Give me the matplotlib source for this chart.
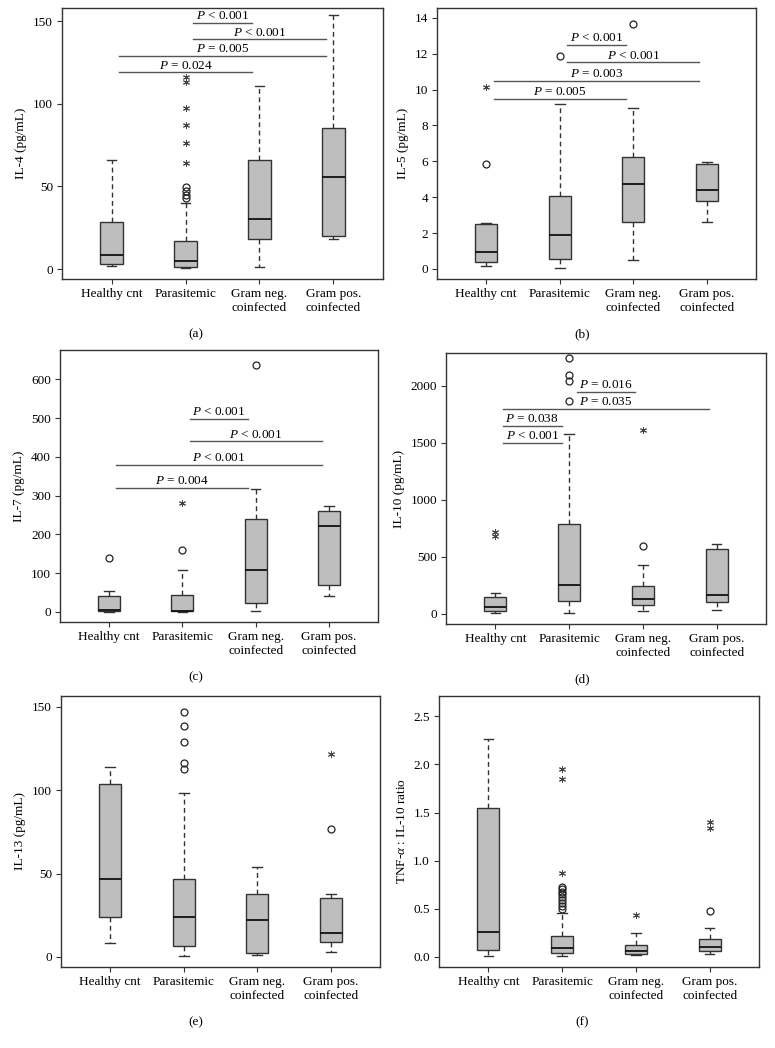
import matplotlib
matplotlib.use("Agg")
import matplotlib.pyplot as plt

plt.rcParams['font.family'] = ['Liberation Serif', 'DejaVu Serif']
plt.rcParams['mathtext.fontset'] = 'custom'
plt.rcParams['mathtext.rm'] = 'Liberation Serif'
plt.rcParams['mathtext.it'] = 'Liberation Serif:italic'

groups = ['Healthy cnt', 'Parasitemic', 'Gram neg.\ncoinfected', 'Gram pos.\ncoinfected']

# box stats per group: whisker low, Q1, median, Q3, whisker high
il4_box = [[1.6, 3, 8.7, 28.5, 66], [0.4, 1.2, 4.6, 17, 40],
           [1.4, 18, 30.5, 66, 111], [18.4, 19.8, 56, 85.4, 154]]
il4_circles = [[], [43, 45, 47.5, 49.5], [], []]
il4_stars = [[], [64, 76.3, 87, 97.7, 113, 116.5], [], []]
il4_sig = [(2, 3, 149, '< 0.001'), (2, 4, 139, '< 0.001'),
           (1, 4, 129, '= 0.005'), (1, 3, 119, '= 0.024')]

il5_box = [[0.15, 0.37, 0.93, 2.5, 2.55], [0.04, 0.56, 1.9, 4.09, 9.2],
           [0.5, 2.64, 4.76, 6.25, 9.0], [2.64, 3.77, 4.4, 5.87, 5.95]]
il5_circles = [[5.87], [11.86], [13.66], []]
il5_stars = [[10.15], [], [], []]
il5_sig = [(2, 3, 12.5, '< 0.001'), (2, 4, 11.52, '< 0.001'),
           (1, 4, 10.5, '= 0.003'), (1, 3, 9.5, '= 0.005')]

il7_box = [[1, 2.5, 4, 41, 54], [1, 1.7, 2.6, 44, 107.6],
           [2.6, 22.4, 109, 241, 318.5], [41.3, 70.6, 221, 261, 274]]
il7_circles = [[138], [161], [637], []]
il7_stars = [[], [280], [], []]
il7_sig = [(2, 3, 498, '< 0.001'), (2, 4, 440, '< 0.001'),
           (1, 4, 380, '< 0.001'), (1, 3, 320, '= 0.004')]

il10_box = [[9, 23, 58, 152, 184], [9, 114, 257, 788, 1577],
            [23, 82, 131, 248, 432], [32, 102, 169, 572, 613]]
il10_circles = [[], [1869, 2038, 2096, 2245], [599], []]
il10_stars = [[680, 715], [], [1615], []]
il10_sig = [(2, 3, 1944, '= 0.016'), (1, 4, 1796, '= 0.035'),
            (1, 2, 1647, '= 0.038'), (1, 2, 1498, '< 0.001')]

il13_box = [[8.4, 24, 46.5, 103.5, 114], [0.8, 6.4, 24, 46.7, 98.5],
            [1.2, 2.4, 22, 37.9, 53.7], [3.2, 8.8, 14.4, 35.3, 37.5]]
il13_circles = [[], [112.9, 116.5, 128.9, 138.6, 146.6], [], [76.8]]
il13_stars = [[], [], [], [121.7]]
il13_sig = []

ratio_box = [[0.014, 0.069, 0.263, 1.549, 2.268], [0.014, 0.041, 0.093, 0.218, 0.456],
             [0.021, 0.035, 0.059, 0.121, 0.249], [0.031, 0.059, 0.107, 0.187, 0.297]]
ratio_circles = [[], [0.50, 0.53, 0.56, 0.59, 0.62, 0.65, 0.68, 0.71, 0.73], [], [0.477]]
ratio_stars = [[], [0.871, 1.85, 1.957], [0.432], [1.342, 1.397]]
ratio_sig = []

panels = [
    ('IL-4 (pg/mL)', il4_box, il4_circles, il4_stars, il4_sig, [0, 50, 100, 150], (-6, 158), '(a)'),
    ('IL-5 (pg/mL)', il5_box, il5_circles, il5_stars, il5_sig, [0, 2, 4, 6, 8, 10, 12, 14], (-0.56, 14.55), '(b)'),
    ('IL-7 (pg/mL)', il7_box, il7_circles, il7_stars, il7_sig, [0, 100, 200, 300, 400, 500, 600], (-26, 676), '(c)'),
    ('IL-10 (pg/mL)', il10_box, il10_circles, il10_stars, il10_sig, [0, 500, 1000, 1500, 2000], (-88, 2286), '(d)'),
    ('IL-13 (pg/mL)', il13_box, il13_circles, il13_stars, il13_sig, [0, 50, 100, 150], (-6, 156.4), '(e)'),
    (r'TNF-$\alpha$ : IL-10 ratio', ratio_box, ratio_circles, ratio_stars, ratio_sig,
     [0.0, 0.5, 1.0, 1.5, 2.0, 2.5], (-0.104, 2.711), '(f)'),
]

# axes boxes in pixels: left, top, right, bottom
boxes_px = [(62, 8, 383, 279), (437, 8, 756, 279),
            (60, 350, 378, 622), (446, 353, 766, 624),
            (61, 696, 380, 967), (439, 696, 759, 967)]
label_x = [196, 582]

W, H = 775, 1048
fig = plt.figure(figsize=(W / 100, H / 100), dpi=100)
edge = '#333333'

for i, (ylab, box, circ, stars, sig, yt, ylim, tag) in enumerate(panels):
    l, t, r, b = boxes_px[i]
    ax = fig.add_axes([l / W, 1 - b / H, (r - l) / W, (b - t) / H])
    stats = []
    for k, (lo, q1, med, q3, hi) in enumerate(box):
        stats.append({'whislo': lo, 'q1': q1, 'med': med, 'q3': q3, 'whishi': hi,
                      'fliers': circ[k]})
    ax.bxp(stats, positions=[1, 2, 3, 4], widths=0.3, capwidths=0.13, patch_artist=True,
           boxprops=dict(facecolor='#bebebe', edgecolor=edge, linewidth=1.0),
           medianprops=dict(color='#111111', linewidth=1.3),
           whiskerprops=dict(color=edge, linewidth=1.0, linestyle=(0, (3.5, 2.5))),
           capprops=dict(color=edge, linewidth=1.0),
           flierprops=dict(marker='o', markersize=5, markerfacecolor='none',
                           markeredgecolor='#222222', markeredgewidth=0.9))
    for k, vals in enumerate(stars):
        if vals:
            ax.plot([k + 1] * len(vals), vals, ls='', marker=(6, 2, 0), ms=5,
                    mew=0.7, color='#444444')
    for g1, g2, y, txt in sig:
        x1, x2 = g1 + 0.1, g2 - 0.1
        ax.plot([x1, x2], [y, y], color='#555555', lw=1.0)
        ax.annotate('$P$ ' + txt, xy=((x1 + x2) / 2, y), xytext=(0, 0.5),
                    textcoords='offset points', ha='center', va='bottom', fontsize=9.5)
    ax.set_xlim(0.33, 4.67)
    ax.set_ylim(*ylim)
    ax.set_yticks(yt)
    ax.set_xticks([1, 2, 3, 4])
    ax.set_xticklabels(groups)
    ax.set_ylabel(ylab, fontsize=9.5)
    for s in ax.spines.values():
        s.set_color(edge)
        s.set_linewidth(1.0)
    ax.tick_params(direction='out', length=3.5, width=0.8, color=edge,
                   labelsize=9.5, pad=3)
    fig.text(label_x[i % 2] / W, 1 - (b + 55) / H, tag, ha='center', va='center', fontsize=9.5)

fig.savefig('out.png', dpi=100)
